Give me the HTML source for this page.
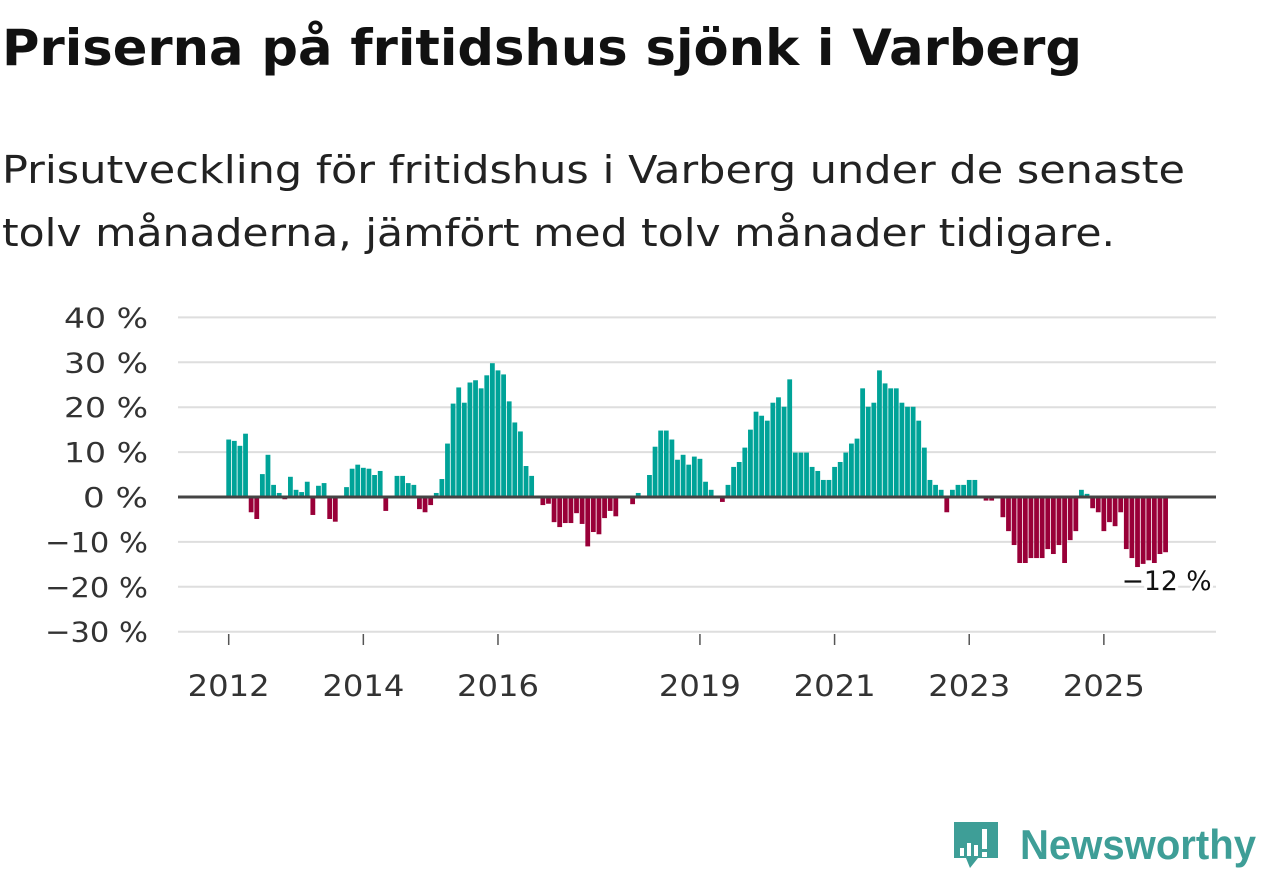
<!DOCTYPE html>
<html><head><meta charset="utf-8"><style>
html,body{margin:0;padding:0;background:#fff;width:1262px;height:879px;overflow:hidden;font-family:"DejaVu Sans","Liberation Sans",sans-serif;}
svg{position:absolute;left:0;top:0;}
</style></head><body>
<svg width="1262" height="879">
  <text x="2" y="65" font-size="50" font-weight="bold" fill="#111" textLength="1080" lengthAdjust="spacingAndGlyphs" font-family="DejaVu Sans, sans-serif">Priserna på fritidshus sjönk i Varberg</text>
  <text x="2" y="183" font-size="38" fill="#222" textLength="1183" lengthAdjust="spacingAndGlyphs" font-family="DejaVu Sans, sans-serif">Prisutveckling för fritidshus i Varberg under de senaste</text>
  <text x="2" y="246" font-size="38" fill="#222" textLength="1113" lengthAdjust="spacingAndGlyphs" font-family="DejaVu Sans, sans-serif">tolv månaderna, jämfört med tolv månader tidigare.</text>
</svg>
<svg id="chart" width="1262" height="879"></svg>
<script>
const values = [12.8,12.5,11.4,14.1,-3.4,-4.9,5.1,9.4,2.7,0.9,-0.5,4.5,1.6,1.1,3.4,-4,2.5,3.1,-4.9,-5.5,0,2.2,6.3,7.2,6.5,6.3,4.9,5.8,-3.1,0,4.7,4.7,3.1,2.7,-2.7,-3.4,-1.8,0.9,4.0,11.9,20.8,24.4,21,25.5,26,24.2,27.1,29.8,28.2,27.3,21.3,16.6,14.6,6.9,4.7,0,-1.8,-1.5,-5.6,-6.7,-5.8,-5.8,-3.6,-6,-11,-7.8,-8.3,-4.7,-3.1,-4.3,0.2,0,-1.6,0.9,0.2,4.9,11.2,14.8,14.8,12.8,8.3,9.4,7.2,9,8.5,3.4,1.6,0.2,-1.1,2.7,6.7,7.8,11,15,19,18.1,17,21,22.2,20.1,26.2,9.9,9.9,9.9,6.7,5.8,3.8,3.8,6.7,7.8,9.9,11.9,13,24.2,20.1,21,28.2,25.3,24.2,24.2,21,20.1,20.1,17,11,3.8,2.7,1.6,-3.4,1.6,2.7,2.7,3.8,3.8,0,-0.8,-0.8,0,-4.5,-7.6,-10.7,-14.7,-14.7,-13.6,-13.6,-13.6,-11.6,-12.7,-10.7,-14.7,-9.6,-7.6,1.6,0.7,-2.5,-3.4,-7.6,-5.6,-6.5,-3.4,-11.6,-13.6,-15.6,-14.9,-14.1,-14.7,-12.7,-12.3];
const yTicks = [40,30,20,10,0,-10,-20,-30];
const yTickLabels = ["40 %","30 %","20 %","10 %","0 %","\u221210 %","\u221220 %","\u221230 %"];
const xTickYears = [2012,2014,2016,2019,2021,2023,2025];
const lastLabel = "\u221212 %";
const startYear = 2012;

const NS="http://www.w3.org/2000/svg";
const svg=document.getElementById('chart');
const x0=228.7, monthW=5.61;
function xScale(monthIndex){return x0+monthIndex*monthW;}
function yScale(v){return 497-v*4.49;}
function mk(tag,attrs){const e=document.createElementNS(NS,tag);for(const k in attrs)e.setAttribute(k,attrs[k]);svg.appendChild(e);return e;}

yTicks.forEach((t,i)=>{
  const y=yScale(t);
  if(t!==0){const g=mk('line',{x1:178,x2:1216,y1:y,y2:y,stroke:'#dedede','stroke-width':2});
  
  }
  const lbl=yTickLabels[i];
  const tx=mk('text',{x:148,y:y+10,'text-anchor':'end','font-size':28,fill:'#333',textLength:(lbl.length*19+8),lengthAdjust:'spacingAndGlyphs'});
  tx.textContent=lbl;
  
  
});
xTickYears.forEach(yr=>{
  const x=xScale((yr-startYear)*12);
  const tk=mk('line',{x1:x,x2:x,y1:634,y2:645,stroke:'#555','stroke-width':1.5});
  
  
  const tx=mk('text',{x:x-41,y:696,'font-size':29,fill:'#333',textLength:82,lengthAdjust:'spacingAndGlyphs'});
  tx.textContent=yr;
  
  
});
values.forEach((v,i)=>{
  const x=xScale(i)-2.4;
  const y=Math.min(yScale(v),yScale(0));
  const h=Math.abs(yScale(v)-yScale(0));
  const b=mk('rect',{x:x,y:y,width:4.8,height:h,fill:v>=0?'#00a398':'#990038'});
  
  
});
const zl=mk('line',{x1:178,x2:1216,y1:yScale(0),y2:yScale(0),stroke:'#444','stroke-width':3});


const li=values.length-1;
const lb=mk('text',{x:xScale(li)-44,y:yScale(values[li])+38,'font-size':27,fill:'#111',stroke:'#fff','stroke-width':6,'paint-order':'stroke',textLength:90,lengthAdjust:'spacingAndGlyphs'});
lb.textContent=lastLabel;


</script>
<svg width="1262" height="879" style="pointer-events:none">
  <path d="M954 822 h44 v36 h-20 l-8 10 l-4 -10 h-12 z" fill="#3e9e97"/>
  <rect x="960" y="848" width="4" height="8" fill="#fff"/>
  <rect x="967" y="843" width="4" height="13" fill="#fff"/>
  <rect x="974" y="845" width="4" height="11" fill="#fff"/>
  <rect x="982" y="829" width="5" height="20" fill="#fff"/>
  <rect x="982" y="852" width="5" height="5" fill="#fff"/>
  <text x="1020" y="859" font-size="42" font-weight="bold" fill="#3e9e97" textLength="236" lengthAdjust="spacingAndGlyphs" font-family="Liberation Sans, sans-serif">Newsworthy</text>
</svg>
</body></html>
